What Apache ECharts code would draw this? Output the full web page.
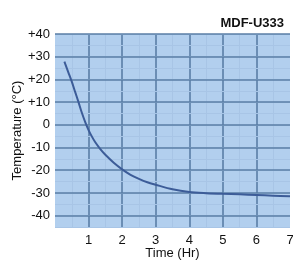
<!DOCTYPE html>
<html>
<head>
<meta charset="utf-8">
<script src="https://cdn.jsdelivr.net/npm/echarts@6/dist/echarts.min.js"></script>
<style>html,body{margin:0;padding:0;background:#fff;}#c{width:293px;height:263px;}</style>
</head>
<body>
<div id="c"></div>
<script>
// Data
const timeHr = [0.28, 0.4, 0.5, 0.6, 0.7, 0.8, 0.9, 1.0, 1.1, 1.2, 1.35, 1.5, 1.75, 2.0, 2.25, 2.5, 2.75, 3.0, 3.5, 4.0, 4.5, 5.0, 5.5, 6.0, 6.5, 7.0];
const tempC  = [27.8, 23, 19, 14.5, 10, 5.3, 1.2, -2.3, -5.2, -7.7, -10.7, -13.2, -16.7, -19.6, -22, -23.8, -25.3, -26.4, -28.4, -29.6, -30.1, -30.4, -30.6, -30.9, -31.2, -31.5];
const yTicks = [40, 30, 20, 10, 0, -10, -20, -30, -40];
const yTickLabels = ['+40', '+30', '+20', '+10', '0', '-10', '-20', '-30', '-40'];
const xTicks = [1, 2, 3, 4, 5, 6, 7];
const titleText = 'MDF-U333';
const xName = 'Time (Hr)';
const yName = 'Temperature (°C)';

const FONT = "'Liberation Sans', Arial, sans-serif";
const chart = echarts.init(document.getElementById('c'), null, {renderer: 'canvas'});
const labelMap = {};
yTicks.forEach((v, i) => { labelMap[v] = yTickLabels[i]; });

chart.setOption({
  animation: false,
  title: {
    text: titleText, right: 4, top: 12,
    textStyle: {fontFamily: FONT, fontSize: 13, fontWeight: 'bold', color: '#111'}
  },
  grid: {left: 55, right: 3, top: 34, bottom: 36, outerBoundsMode: 'none', containLabel: false,
         show: true, backgroundColor: '#b2cfee', borderWidth: 0},
  xAxis: {
    type: 'value', min: 0, max: 7, interval: 1,
    name: xName, nameLocation: 'middle', nameGap: 20, nameMoveOverlap: false,
    nameTextStyle: {fontFamily: FONT, fontSize: 13, color: '#111', verticalAlign: 'top'},
    axisLine: {show: false}, axisTick: {show: false},
    axisLabel: {
      customValues: xTicks, margin: 7,
      fontFamily: FONT, fontSize: 13, color: '#111'
    },
    splitLine: {show: true, showMinLine: false, showMaxLine: false, lineStyle: {color: '#5a7ea6', width: 1.6}},
    minorTick: {show: false, splitNumber: 2},
    minorSplitLine: {show: true, lineStyle: {color: '#a8c5e6', width: 1}}
  },
  yAxis: [{
    type: 'value', min: -45, max: 40,
    name: yName, nameLocation: 'middle', nameGap: 44, nameMoveOverlap: false,
    nameTextStyle: {fontFamily: FONT, fontSize: 13, color: '#111', verticalAlign: 'top'},
    axisLine: {show: false},
    axisTick: {show: false, customValues: yTicks},
    axisLabel: {
      customValues: yTicks, margin: 5,
      formatter: v => labelMap[v] !== undefined ? labelMap[v] : '',
      fontFamily: FONT, fontSize: 13, color: '#111'
    },
    splitLine: {show: true, lineStyle: {color: '#5a7ea6', width: 1.6}},
    z: 2
  }, {
    type: 'value', min: -45, max: 40, interval: 5, position: 'right',
    axisLine: {show: false}, axisTick: {show: false}, axisLabel: {show: false},
    splitLine: {show: true, lineStyle: {color: '#a8c5e6', width: 1}},
    z: 1
  }],
  series: [{
    type: 'line', yAxisIndex: 0, smooth: 0.3, showSymbol: false,
    data: timeHr.map((t, i) => [t, tempC[i]]),
    lineStyle: {color: '#3c5c98', width: 2},
    z: 5
  }]
});
</script>
</body>
</html>
